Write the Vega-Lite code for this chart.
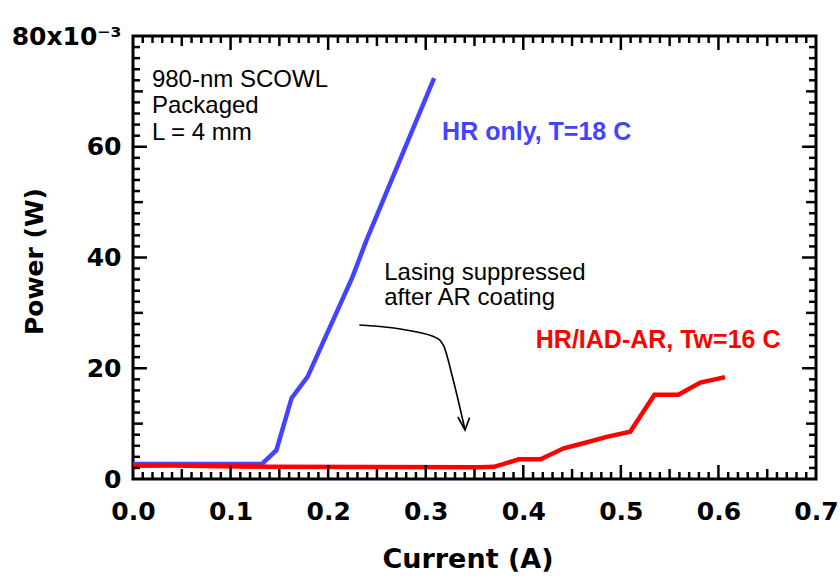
{
  "$schema": "https://vega.github.io/schema/vega-lite/v6.json",
  "width": 683,
  "height": 443,
  "autosize": "none",
  "padding": {"left": 133, "top": 36, "right": 24, "bottom": 98},
  "background": "white",
  "config": {"view": {"stroke": "black", "strokeWidth": 3}},
  "resolve": {"axis": {"x": "independent", "y": "independent"}},
  "datasets": {
    "blue": [
      {"x": 0, "y": 2.7}, {"x": 0.132, "y": 2.7}, {"x": 0.147, "y": 5.2}, {"x": 0.1625, "y": 14.6},
      {"x": 0.179, "y": 18.5}, {"x": 0.225, "y": 36.5}, {"x": 0.2388, "y": 42.9}, {"x": 0.3086, "y": 72.4}
    ],
    "red": [
      {"x": 0, "y": 2.4}, {"x": 0.04, "y": 2.45}, {"x": 0.14, "y": 2.2}, {"x": 0.3546, "y": 2.1},
      {"x": 0.37, "y": 2.2}, {"x": 0.3955, "y": 3.55}, {"x": 0.4176, "y": 3.55}, {"x": 0.4414, "y": 5.55},
      {"x": 0.4636, "y": 6.55}, {"x": 0.4854, "y": 7.6}, {"x": 0.5096, "y": 8.55}, {"x": 0.5344, "y": 15.2},
      {"x": 0.559, "y": 15.2}, {"x": 0.5814, "y": 17.4}, {"x": 0.6067, "y": 18.4}
    ],
    "arrow": [
      {"x": 0.232, "y": 27.8}, {"x": 0.2797, "y": 26.9}, {"x": 0.312, "y": 25.4}, {"x": 0.3188, "y": 23.9},
      {"x": 0.3273, "y": 18.5}, {"x": 0.3403, "y": 8.85, "tip": true}
    ],
    "notes": [
      {"x": 0.0194, "y": 70.7, "text": "980-nm SCOWL"},
      {"x": 0.0194, "y": 66.1, "text": "Packaged"},
      {"x": 0.0194, "y": 61.2, "text": "L = 4 mm"},
      {"x": 0.2575, "y": 35.9, "text": "Lasing suppressed"},
      {"x": 0.2575, "y": 31.4, "text": "after AR coating"}
    ],
    "labels": [
      {"x": 0.3168, "y": 61.2, "text": "HR only, T=18 C", "series": "HR only"},
      {"x": 0.4128, "y": 23.7, "text": "HR/IAD-AR, Tw=16 C", "series": "HR/IAD-AR"}
    ],
    "xmajor": [{"v": 0.1}, {"v": 0.2}, {"v": 0.3}, {"v": 0.4}, {"v": 0.5}, {"v": 0.6}],
    "xmedium": [{"v": 0.05}, {"v": 0.15}, {"v": 0.25}, {"v": 0.35}, {"v": 0.45}, {"v": 0.55}, {"v": 0.65}],
    "xminor": [{"v": 0.01}, {"v": 0.02}, {"v": 0.03}, {"v": 0.04}, {"v": 0.06}, {"v": 0.07}, {"v": 0.08}, {"v": 0.09}, {"v": 0.11}, {"v": 0.12}, {"v": 0.13}, {"v": 0.14}, {"v": 0.16}, {"v": 0.17}, {"v": 0.18}, {"v": 0.19}, {"v": 0.21}, {"v": 0.22}, {"v": 0.23}, {"v": 0.24}, {"v": 0.26}, {"v": 0.27}, {"v": 0.28}, {"v": 0.29}, {"v": 0.31}, {"v": 0.32}, {"v": 0.33}, {"v": 0.34}, {"v": 0.36}, {"v": 0.37}, {"v": 0.38}, {"v": 0.39}, {"v": 0.41}, {"v": 0.42}, {"v": 0.43}, {"v": 0.44}, {"v": 0.46}, {"v": 0.47}, {"v": 0.48}, {"v": 0.49}, {"v": 0.51}, {"v": 0.52}, {"v": 0.53}, {"v": 0.54}, {"v": 0.56}, {"v": 0.57}, {"v": 0.58}, {"v": 0.59}, {"v": 0.61}, {"v": 0.62}, {"v": 0.63}, {"v": 0.64}, {"v": 0.66}, {"v": 0.67}, {"v": 0.68}, {"v": 0.69}],
    "ymajor": [{"v": 20}, {"v": 40}, {"v": 60}],
    "ymedium": [{"v": 10}, {"v": 30}, {"v": 50}, {"v": 70}],
    "yminor": [{"v": 2}, {"v": 4}, {"v": 6}, {"v": 8}, {"v": 12}, {"v": 14}, {"v": 16}, {"v": 18}, {"v": 22}, {"v": 24}, {"v": 26}, {"v": 28}, {"v": 32}, {"v": 34}, {"v": 36}, {"v": 38}, {"v": 42}, {"v": 44}, {"v": 46}, {"v": 48}, {"v": 52}, {"v": 54}, {"v": 56}, {"v": 58}, {"v": 62}, {"v": 64}, {"v": 66}, {"v": 68}, {"v": 72}, {"v": 74}, {"v": 76}, {"v": 78}]
  },
  "layer": [
    {
      "data": {"name": "blue"},
      "mark": {"type": "line", "color": "#4444ff", "strokeWidth": 4.5},
      "encoding": {
        "x": {"field": "x", "type": "quantitative", "scale": {"domain": [0, 0.7], "nice": false, "zero": false},
          "axis": {"orient": "bottom", "values": [0, 0.1, 0.2, 0.3, 0.4, 0.5, 0.6, 0.7], "format": ".1f",
            "ticks": false, "grid": false, "domain": false, "labelFlush": false, "labelOverlap": false,
            "labelFont": "DejaVu Sans", "labelFontWeight": "bold", "labelFontSize": 25, "labelColor": "black", "labelPadding": 20,
            "title": "Current (A)", "titleFont": "DejaVu Sans", "titleFontWeight": "bold", "titleFontSize": 27, "titleColor": "black",
            "titleX": 334.5, "titleY": 88, "titleBaseline": "alphabetic", "titleAlign": "center"}},
        "y": {"field": "y", "type": "quantitative", "scale": {"domain": [0, 80], "nice": false, "zero": false},
          "axis": {"orient": "left", "values": [0, 20, 40, 60, 80],
            "labelExpr": "datum.value == 80 ? '80x10⁻³' : datum.label",
            "ticks": false, "grid": false, "domain": false, "labelFlush": false, "labelOverlap": false,
            "labelFont": "DejaVu Sans", "labelFontWeight": "bold", "labelFontSize": 25, "labelColor": "black", "labelPadding": 12,
            "title": "Power (W)", "titleFont": "DejaVu Sans", "titleFontWeight": "bold", "titleFontSize": 25, "titleColor": "black",
            "titleX": -91, "titleY": 225, "titleBaseline": "alphabetic", "titleAlign": "center", "titleAngle": -90}}
      }
    },
    {
      "data": {"name": "red"},
      "mark": {"type": "line", "color": "#ff0000", "strokeWidth": 4.5},
      "encoding": {
        "x": {"field": "x", "type": "quantitative", "scale": {"domain": [0, 0.7], "nice": false, "zero": false}, "axis": null},
        "y": {"field": "y", "type": "quantitative", "scale": {"domain": [0, 80], "nice": false, "zero": false}, "axis": null}
      }
    },
    {"data": {"name": "xmajor"}, "mark": {"type": "rule", "color": "black", "strokeWidth": 2.5},
      "encoding": {"x": {"field": "v", "type": "quantitative", "axis": null}, "y": {"datum": 0, "type": "quantitative", "axis": null}, "y2": {"datum": 2.53}}},
    {"data": {"name": "xmedium"}, "mark": {"type": "rule", "color": "black", "strokeWidth": 2.5},
      "encoding": {"x": {"field": "v", "type": "quantitative", "axis": null}, "y": {"datum": 0, "type": "quantitative", "axis": null}, "y2": {"datum": 1.81}}},
    {"data": {"name": "xminor"}, "mark": {"type": "rule", "color": "black", "strokeWidth": 2.5},
      "encoding": {"x": {"field": "v", "type": "quantitative", "axis": null}, "y": {"datum": 0, "type": "quantitative", "axis": null}, "y2": {"datum": 1.26}}},
    {"data": {"name": "xmajor"}, "mark": {"type": "rule", "color": "black", "strokeWidth": 2.5},
      "encoding": {"x": {"field": "v", "type": "quantitative", "axis": null}, "y": {"datum": 80, "type": "quantitative", "axis": null}, "y2": {"datum": 77.47}}},
    {"data": {"name": "xmedium"}, "mark": {"type": "rule", "color": "black", "strokeWidth": 2.5},
      "encoding": {"x": {"field": "v", "type": "quantitative", "axis": null}, "y": {"datum": 80, "type": "quantitative", "axis": null}, "y2": {"datum": 78.19}}},
    {"data": {"name": "xminor"}, "mark": {"type": "rule", "color": "black", "strokeWidth": 2.5},
      "encoding": {"x": {"field": "v", "type": "quantitative", "axis": null}, "y": {"datum": 80, "type": "quantitative", "axis": null}, "y2": {"datum": 78.74}}},
    {"data": {"name": "ymajor"}, "mark": {"type": "rule", "color": "black", "strokeWidth": 2.5},
      "encoding": {"y": {"field": "v", "type": "quantitative", "axis": null}, "x": {"datum": 0, "type": "quantitative", "axis": null}, "x2": {"datum": 0.0143}}},
    {"data": {"name": "ymedium"}, "mark": {"type": "rule", "color": "black", "strokeWidth": 2.5},
      "encoding": {"y": {"field": "v", "type": "quantitative", "axis": null}, "x": {"datum": 0, "type": "quantitative", "axis": null}, "x2": {"datum": 0.0102}}},
    {"data": {"name": "yminor"}, "mark": {"type": "rule", "color": "black", "strokeWidth": 2.5},
      "encoding": {"y": {"field": "v", "type": "quantitative", "axis": null}, "x": {"datum": 0, "type": "quantitative", "axis": null}, "x2": {"datum": 0.0072}}},
    {"data": {"name": "ymajor"}, "mark": {"type": "rule", "color": "black", "strokeWidth": 2.5},
      "encoding": {"y": {"field": "v", "type": "quantitative", "axis": null}, "x": {"datum": 0.7, "type": "quantitative", "axis": null}, "x2": {"datum": 0.6857}}},
    {"data": {"name": "ymedium"}, "mark": {"type": "rule", "color": "black", "strokeWidth": 2.5},
      "encoding": {"y": {"field": "v", "type": "quantitative", "axis": null}, "x": {"datum": 0.7, "type": "quantitative", "axis": null}, "x2": {"datum": 0.6898}}},
    {"data": {"name": "yminor"}, "mark": {"type": "rule", "color": "black", "strokeWidth": 2.5},
      "encoding": {"y": {"field": "v", "type": "quantitative", "axis": null}, "x": {"datum": 0.7, "type": "quantitative", "axis": null}, "x2": {"datum": 0.6928}}},
    {
      "data": {"name": "arrow"},
      "mark": {"type": "line", "color": "black", "strokeWidth": 1.6, "interpolate": "monotone"},
      "encoding": {
        "x": {"field": "x", "type": "quantitative", "axis": null},
        "y": {"field": "y", "type": "quantitative", "axis": null}
      }
    },
    {
      "data": {"name": "arrow"},
      "transform": [{"filter": "datum.tip"}],
      "mark": {"type": "point", "shape": "M-0.55,-1L0,0L0.35,-0.95", "filled": false, "color": "black", "strokeWidth": 1.6, "size": 676, "opacity": 1},
      "encoding": {
        "x": {"field": "x", "type": "quantitative", "axis": null},
        "y": {"field": "y", "type": "quantitative", "axis": null}
      }
    },
    {
      "data": {"name": "notes"},
      "mark": {"type": "text", "align": "left", "baseline": "alphabetic", "font": "Liberation Sans", "fontSize": 24, "color": "black"},
      "encoding": {
        "x": {"field": "x", "type": "quantitative", "axis": null},
        "y": {"field": "y", "type": "quantitative", "axis": null},
        "text": {"field": "text"}
      }
    },
    {
      "data": {"name": "labels"},
      "mark": {"type": "text", "align": "left", "baseline": "alphabetic", "font": "Liberation Sans", "fontSize": 25, "fontWeight": "bold"},
      "encoding": {
        "x": {"field": "x", "type": "quantitative", "axis": null},
        "y": {"field": "y", "type": "quantitative", "axis": null},
        "text": {"field": "text"},
        "color": {"field": "series", "type": "nominal", "scale": {"domain": ["HR only", "HR/IAD-AR"], "range": ["#4444ff", "#ff0000"]}, "legend": null}
      }
    }
  ]
}
